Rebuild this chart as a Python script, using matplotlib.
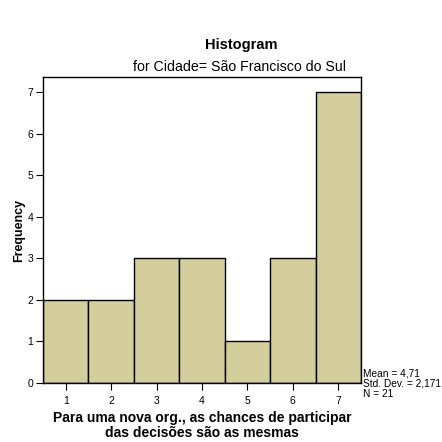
import matplotlib
matplotlib.use("Agg")
import matplotlib.pyplot as plt

plt.rcParams["font.family"] = ["Liberation Sans", "DejaVu Sans"]

categories = [1, 2, 3, 4, 5, 6, 7]
frequencies = [2, 2, 3, 3, 1, 3, 7]
yticks = [0, 1, 2, 3, 4, 5, 6, 7]
stats_lines = ["Mean = 4,71", "Std. Dev. = 2,171", "N = 21"]

fig = plt.figure(figsize=(4.42, 4.42), dpi=100)
W = H = 442.0
ax = fig.add_axes([43 / W, 1 - 383 / H, 318 / W, 306 / H])

ax.bar(categories, frequencies, width=1.0, color="#D3CE9B",
       edgecolor="black", linewidth=1.0)

ax.set_xlim(0.5, 7.5)
ax.set_ylim(0, 7.36)
ax.set_xticks(categories)
ax.set_yticks(yticks)
ax.tick_params(axis="both", labelsize=7.5, direction="out", length=5, width=0.8, pad=2)
ax.tick_params(axis="x", length=5, pad=4)
for s in ax.spines.values():
    s.set_linewidth(1.0)

ax.set_ylabel("Frequency", fontsize=9, fontweight="bold", labelpad=2)
ax.set_xlabel("Para uma nova org., as chances de participar\ndas decisões são as mesmas",
              fontsize=10, fontweight="bold", labelpad=4, linespacing=1.05)

fig.text(241 / W, 1 - 45 / H, "Histogram", ha="center", va="center",
         fontsize=10.5, fontweight="bold")
fig.text(240 / W, 1 - 67 / H, "for Cidade= São Francisco do Sul",
         ha="center", va="center", fontsize=10.2)

for i, line in enumerate(stats_lines):
    fig.text(363 / W, 1 - (373 + i * 10.5) / H, line, ha="left", va="center",
             fontsize=7.3)

fig.savefig("out.png", dpi=100)
